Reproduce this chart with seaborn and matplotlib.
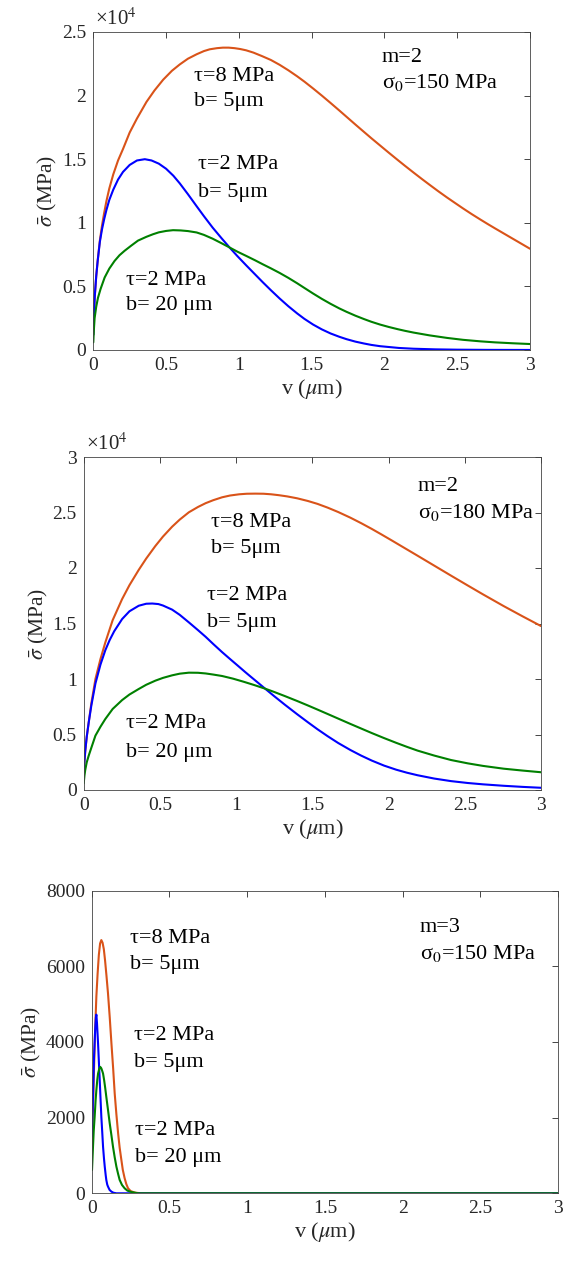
import numpy as np
import pandas as pd
import matplotlib
matplotlib.use("Agg")
import matplotlib.pyplot as plt
import seaborn as sns
from matplotlib.ticker import FuncFormatter, MultipleLocator

# ---------------- data (values in MPa) ----------------
# Panel 1 : m=2, sigma0=150 MPa
p1_v_t8b5 = [0, 0.005, 0.01, 0.02, 0.03, 0.045, 0.06, 0.075, 0.09, 0.11, 0.137, 0.17, 0.204, 0.25, 0.30,
             0.365, 0.42, 0.48, 0.54, 0.594, 0.65, 0.71, 0.76, 0.80, 0.85, 0.89, 0.93, 0.97, 1.01, 1.05,
             1.10, 1.16, 1.22, 1.28, 1.34, 1.40, 1.45, 1.51, 1.57, 1.63, 1.69, 1.74, 1.80, 1.86, 1.91,
             1.97, 2.03, 2.09, 2.14, 2.2, 2.26, 2.31, 2.37, 2.43, 2.49, 2.54, 2.60, 2.66, 2.71, 2.76,
             2.82, 2.88, 2.94, 3.0]
p1_s_t8b5 = [1200, 3000, 4200, 5800, 7000, 8600, 9800, 10800, 11700, 12700, 13800, 14900, 15800, 17100, 18200,
             19500, 20400, 21250, 21950, 22450, 22900, 23250, 23500, 23640, 23730, 23770, 23770, 23730, 23660, 23560,
             23380, 23100, 22800, 22420, 21990, 21520, 21100, 20560, 20000, 19420, 18830, 18330, 17730, 17140, 16650,
             16080, 15510, 14950, 14490, 13950, 13420, 12990, 12480, 11990, 11520, 11130, 10680, 10250, 9900, 9560,
             9160, 8760, 8360, 7960]

p1_v_t2b5 = [0, 0.005, 0.01, 0.02, 0.03, 0.045, 0.06, 0.075, 0.09, 0.11, 0.137, 0.17, 0.204, 0.25, 0.30,
             0.354, 0.40, 0.45, 0.50, 0.55, 0.594, 0.65, 0.71, 0.76, 0.82, 0.88, 0.936, 0.99, 1.05, 1.11,
             1.164, 1.22, 1.28, 1.34, 1.40, 1.45, 1.51, 1.57, 1.63, 1.69, 1.74, 1.80, 1.86, 1.91, 1.97,
             2.1, 2.2, 2.35, 2.5, 2.7, 3.0]
p1_s_t2b5 = [1200, 3000, 4200, 5800, 7000, 8500, 9500, 10300, 11000, 11800, 12600, 13400, 14000, 14550, 14900,
             15000, 14900, 14650, 14250, 13700, 13100, 12250, 11300, 10520, 9620, 8800, 8060, 7380, 6660, 5960,
             5330, 4700, 4050, 3440, 2880, 2450, 2000, 1620, 1300, 1040, 850, 660, 510, 400, 300,
             160, 100, 50, 25, 10, 3]

p1_v_t2b20 = [0, 0.004, 0.009, 0.02, 0.032, 0.05, 0.078, 0.11, 0.146, 0.18, 0.215, 0.26, 0.307, 0.365, 0.41,
              0.45, 0.50, 0.548, 0.60, 0.65, 0.71, 0.76, 0.82, 0.88, 0.936, 0.99, 1.05, 1.11, 1.164, 1.22,
              1.28, 1.34, 1.40, 1.45, 1.51, 1.57, 1.63, 1.69, 1.74, 1.80, 1.86, 1.91, 1.97, 2.03, 2.09,
              2.14, 2.2, 2.31, 2.43, 2.54, 2.66, 2.76, 2.88, 3.0]
p1_s_t2b20 = [600, 1600, 2500, 3400, 4100, 4800, 5700, 6400, 7000, 7450, 7800, 8200, 8600, 8900, 9100,
              9250, 9360, 9420, 9400, 9350, 9240, 9050, 8750, 8400, 8060, 7730, 7400, 7060, 6740, 6420,
              6060, 5670, 5250, 4880, 4440, 4020, 3630, 3270, 3000, 2700, 2430, 2220, 2000, 1810, 1640,
              1510, 1370, 1150, 950, 800, 680, 600, 530, 470]

# Panel 2 : m=2, sigma0=180 MPa
p2_v_t8b5 = [0, 0.005, 0.01, 0.02, 0.033, 0.05, 0.077, 0.11, 0.142, 0.19, 0.252, 0.30, 0.361, 0.41, 0.47,
             0.52, 0.58, 0.63, 0.69, 0.75, 0.80, 0.85, 0.908, 0.96, 1.02, 1.07, 1.127, 1.18, 1.23, 1.28,
             1.335, 1.40, 1.47, 1.533, 1.60, 1.67, 1.75, 1.82, 1.89, 1.95, 2.02, 2.10, 2.19, 2.30, 2.41,
             2.52, 2.62, 2.755, 2.88, 3.0]
p2_s_t8b5 = [1300, 2600, 3500, 4800, 6100, 7800, 10000, 11800, 13300, 15300, 17200, 18450, 19830, 20850, 21980,
             22830, 23720, 24360, 25020, 25500, 25840, 26110, 26370, 26530, 26640, 26690, 26700, 26690, 26640, 26560,
             26450, 26280, 26040, 25780, 25440, 25040, 24530, 24040, 23520, 23050, 22490, 21840, 21110, 20210, 19310,
             18420, 17620, 16570, 15640, 14770]

p2_v_t2b5 = [0, 0.005, 0.01, 0.02, 0.033, 0.05, 0.077, 0.11, 0.142, 0.17, 0.20, 0.252, 0.30, 0.361, 0.41,
             0.45, 0.49, 0.52, 0.58, 0.63, 0.69, 0.75, 0.80, 0.85, 0.908, 0.96, 1.017, 1.06, 1.10, 1.15,
             1.19, 1.25, 1.32, 1.40, 1.47, 1.533, 1.60, 1.67, 1.75, 1.82, 1.89, 1.97, 2.05, 2.12, 2.19,
             2.30, 2.41, 2.52, 2.62, 2.755, 2.88, 3.0]
p2_s_t2b5 = [1300, 2600, 3500, 4800, 6100, 7600, 9600, 11300, 12600, 13500, 14300, 15400, 16100, 16600, 16780,
             16800, 16750, 16620, 16250, 15780, 15100, 14400, 13800, 13150, 12420, 11800, 11130, 10620, 10160, 9590,
             9130, 8450, 7680, 6830, 6110, 5480, 4850, 4230, 3600, 3100, 2650, 2200, 1830, 1560, 1330,
             1030, 800, 630, 510, 380, 280, 200]

p2_v_t2b20 = [0, 0.005, 0.01, 0.02, 0.033, 0.05, 0.077, 0.11, 0.142, 0.19, 0.252, 0.30, 0.361, 0.41, 0.47,
              0.52, 0.58, 0.63, 0.69, 0.75, 0.80, 0.85, 0.908, 0.98, 1.05, 1.12, 1.19, 1.25, 1.32, 1.40,
              1.47, 1.533, 1.60, 1.67, 1.75, 1.82, 1.89, 1.97, 2.05, 2.12, 2.19, 2.30, 2.41, 2.52, 2.62,
              2.755, 2.88, 3.0]
p2_s_t2b20 = [600, 1300, 1800, 2500, 3100, 3800, 4900, 5700, 6400, 7300, 8100, 8600, 9100, 9480, 9850,
              10100, 10330, 10480, 10570, 10560, 10500, 10400, 10270, 10030, 9750, 9450, 9130, 8830, 8460, 8020,
              7620, 7250, 6850, 6430, 5950, 5540, 5130, 4680, 4250, 3890, 3550, 3100, 2700, 2400, 2170,
              1920, 1750, 1600]

# Panel 3 : m=3, sigma0=150 MPa
p3_v_t8b5 = [0, 0.008, 0.015, 0.022, 0.03, 0.038, 0.046, 0.054, 0.062, 0.07, 0.078, 0.086, 0.095, 0.105,
             0.116, 0.127, 0.138, 0.148, 0.159, 0.170, 0.18, 0.191, 0.20, 0.212, 0.223, 0.234, 0.25, 0.277,
             0.32, 1.0, 2.0, 3.0]
p3_s_t8b5 = [1150, 2200, 3300, 4300, 5200, 5800, 6300, 6600, 6690, 6620, 6450, 6150, 5750, 5274,
             4650, 3956, 3300, 2637, 2080, 1582, 1200, 879, 620, 396, 240, 132, 60, 18,
             0, 0, 0, 0]

p3_v_t2b5 = [0.002, 0.008, 0.015, 0.022, 0.027, 0.030, 0.034, 0.041, 0.047, 0.052, 0.057, 0.062, 0.068,
             0.073, 0.079, 0.084, 0.09, 0.094, 0.10, 0.105, 0.115, 0.127, 0.14, 0.159, 1.0, 2.0, 3.0]
p3_s_t2b5 = [1500, 2500, 3604, 4300, 4650, 4720, 4500, 3950, 3400, 2950, 2480, 2022, 1600,
             1231, 920, 703, 480, 352, 230, 176, 90, 44, 15, 0, 0, 0, 0]

p3_v_t2b20 = [0.002, 0.008, 0.013, 0.019, 0.025, 0.030, 0.036, 0.041, 0.048, 0.055, 0.062, 0.068, 0.073,
              0.08, 0.087, 0.094, 0.105, 0.116, 0.127, 0.137, 0.148, 0.159, 0.17, 0.18, 0.195, 0.212,
              0.23, 0.255, 0.298, 1.0, 2.0, 3.0]
p3_s_t2b20 = [615, 1200, 1650, 2022, 2450, 2725, 3000, 3164, 3280, 3340, 3300, 3230, 3164,
              2990, 2780, 2549, 2200, 1846, 1530, 1231, 950, 703, 510, 352, 220, 132,
              70, 35, 0, 0, 0, 0]

labels_t8b5 = ["τ=8 MPa", "b= 5μm"]
labels_t2b5 = ["τ=2 MPa", "b= 5μm"]
labels_t2b20 = ["τ=2 MPa", "b= 20 μm"]
params = [["m=2", "σ$_0$=150 MPa"], ["m=2", "σ$_0$=180 MPa"], ["m=3", "σ$_0$=150 MPa"]]

# ---------------- style ----------------
sns.set_style("white")
plt.rcParams["font.family"] = ["Liberation Serif", "DejaVu Serif"]
plt.rcParams["mathtext.fontset"] = "stix"
plt.rcParams["axes.linewidth"] = 0.6

C_OR = "#D95319"
C_BL = "#0000FF"
C_GR = "#008000"
DARK = "#262626"

fig = plt.figure(figsize=(5.66, 12.64), dpi=100)

axes_pos = [
    [93.3 / 566, 1 - 350 / 1264, (530 - 93.3) / 566, (350 - 32) / 1264],
    [83.7 / 566, 1 - 790 / 1264, (541 - 83.7) / 566, (790 - 457) / 1264],
    [91.7 / 566, 1 - 1193.3 / 1264, (558 - 91.7) / 566, (1193.3 - 890.5) / 1264],
]

series = [
    [(p1_v_t8b5, p1_s_t8b5, C_OR), (p1_v_t2b5, p1_s_t2b5, C_BL), (p1_v_t2b20, p1_s_t2b20, C_GR)],
    [(p2_v_t8b5, p2_s_t8b5, C_OR), (p2_v_t2b5, p2_s_t2b5, C_BL), (p2_v_t2b20, p2_s_t2b20, C_GR)],
    [(p3_v_t8b5, p3_s_t8b5, C_OR), (p3_v_t2b5, p3_s_t2b5, C_BL), (p3_v_t2b20, p3_s_t2b20, C_GR)],
]

ylims = [(0, 25000), (0, 30000), (0, 8000)]
ysteps = [5000, 5000, 2000]
scale = [1e4, 1e4, 1.0]

# annotation positions (data coords: v, value of first line, value of second line)
ann = [
    {"t8": (0.69, 21500, 19500), "t2": (0.72, 14550, 12400), "t20": (0.225, 5500, 3460), "par": (1.98, 23000, 21000)},
    {"t8": (0.836, 24100, 21800), "t2": (0.806, 17500, 15100), "t20": (0.278, 5950, 3400), "par": (2.19, 27300, 25000)},
    {"t8": (0.247, 6733, 6046), "t2": (0.272, 4172, 3459), "t20": (0.279, 1663, 950), "par": (2.11, 7023, 6337)},
]

ANN_FS = 16
for i in range(3):
    ax = fig.add_axes(axes_pos[i])
    for v, s, c in series[i]:
        df = pd.DataFrame({"v": v, "s": s})
        sns.lineplot(data=df, x="v", y="s", color=c, linewidth=1.5, ax=ax, legend=False,
                     estimator=None, sort=False)
    ax.set_xlim(0, 3)
    ax.set_ylim(*ylims[i])
    ax.xaxis.set_major_locator(MultipleLocator(0.5))
    ax.yaxis.set_major_locator(MultipleLocator(ysteps[i]))
    ax.xaxis.set_major_formatter(FuncFormatter(lambda x, p: "%g" % x))
    sc = scale[i]
    ax.yaxis.set_major_formatter(FuncFormatter(lambda y, p, sc=sc: "%g" % round(y / sc, 3)))
    ax.tick_params(direction="in", length=4, width=0.6, top=True, right=True,
                   labelsize=14, colors=DARK, pad=5)
    for sp in ax.spines.values():
        sp.set_color("#444444")
        sp.set_linewidth(0.6)
    ax.set_xlabel(r"v ($\mu$m)", fontsize=16, color=DARK, labelpad=2)
    ax.set_ylabel(r"$\bar{\sigma}$ (MPa)", fontsize=15.5, color=DARK, labelpad=2)
    if sc != 1.0:
        ax.text(0.005, 1.005, r"×10$^{4}$", transform=ax.transAxes, ha="left", va="bottom",
                fontsize=15, color=DARK)
    a = ann[i]
    for key, lab in (("t8", labels_t8b5), ("t2", labels_t2b5), ("t20", labels_t2b20)):
        x, y1, y2 = a[key]
        ax.text(x, y1, lab[0], fontsize=ANN_FS, va="center", ha="left", color="black")
        ax.text(x, y2, lab[1], fontsize=ANN_FS, va="center", ha="left", color="black")
    x, y1, y2 = a["par"]
    ax.text(x, y1, params[i][0], fontsize=ANN_FS, va="center", ha="left", color="black")
    ax.text(x, y2, params[i][1], fontsize=ANN_FS, va="center", ha="left", color="black")

fig.savefig("out.png", dpi=100)
